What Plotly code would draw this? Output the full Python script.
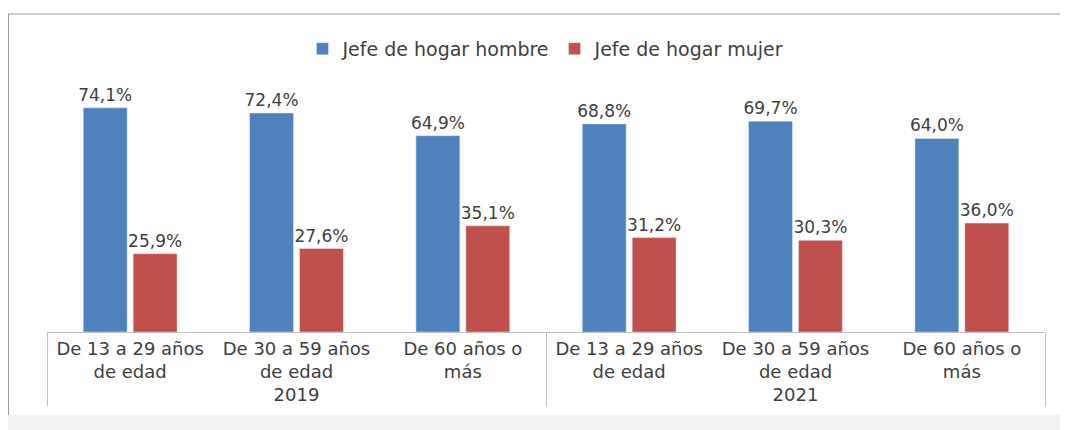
import plotly.graph_objects as go

# Data
years = ["2019", "2019", "2019", "2021", "2021", "2021"]
age_groups = [
    "De 13 a 29 años<br>de edad",
    "De 30 a 59 años<br>de edad",
    "De 60 años o<br>más",
    "De 13 a 29 años<br>de edad",
    "De 30 a 59 años<br>de edad",
    "De 60 años o<br>más",
]
jefe_hombre = [74.1, 72.4, 64.9, 68.8, 69.7, 64.0]
jefe_mujer = [25.9, 27.6, 35.1, 31.2, 30.3, 36.0]

BLUE = "#4F81BD"
RED = "#C0504D"
TXT = "#404040"
LBL_FONT = dict(family="DejaVu Sans", size=17, color=TXT)

fig = go.Figure()
fig.add_trace(go.Bar(
    x=[years, age_groups], y=jefe_hombre, name="Jefe de hogar hombre",
    marker_color=BLUE, texttemplate="%{y:.1f}%", textposition="outside",
    textfont=LBL_FONT, cliponaxis=False, constraintext="none",
))
fig.add_trace(go.Bar(
    x=[years, age_groups], y=jefe_mujer, name="Jefe de hogar mujer",
    marker_color=RED, texttemplate="%{y:.1f}%", textposition="outside",
    textfont=LBL_FONT, cliponaxis=False, constraintext="none",
))

# frame of the original chart box (paper coords outside the plot area)
shapes = [
    dict(type="rect", xref="paper", yref="paper", x0=-0.06, x1=1.03, y0=-0.42, y1=-0.343,
         fillcolor="#F2F2F2", line_width=0, layer="above"),
    dict(type="line", xref="paper", yref="paper", x0=-0.039, x1=1.017, y0=1.314, y1=1.314,
         line=dict(color="#D0D0D0", width=2)),
    dict(type="line", xref="paper", yref="paper", x0=-0.039, x1=-0.039, y0=-0.343, y1=1.314,
         line=dict(color="#A0A0A0", width=2)),
]

# page body adds an 8px margin, so the figure is a bit smaller than the window
fig.update_layout(
    width=1060, height=422,
    margin=dict(l=39, r=23, t=82, b=98),
    paper_bgcolor="white", plot_bgcolor="white",
    separators=",.",
    barmode="group", bargap=0.4, bargroupgap=0.12,
    font=dict(family="DejaVu Sans", size=16, color=TXT),
    legend=dict(orientation="h", x=0.5, xanchor="center", y=1.17, yanchor="middle",
                font=dict(family="DejaVu Sans", size=19, color=TXT),
                itemwidth=30, traceorder="normal"),
    shapes=shapes,
)
fig.update_xaxes(
    type="multicategory", showline=True, linecolor="#BFBFBF", linewidth=1,
    showdividers=True, dividercolor="#BFBFBF", dividerwidth=1,
    tickfont=dict(family="DejaVu Sans", size=18, color=TXT),
    ticks="", showgrid=False, automargin=False,
)
fig.update_yaxes(range=[0, 80], visible=False, showgrid=False)

fig.write_html("out.html")
